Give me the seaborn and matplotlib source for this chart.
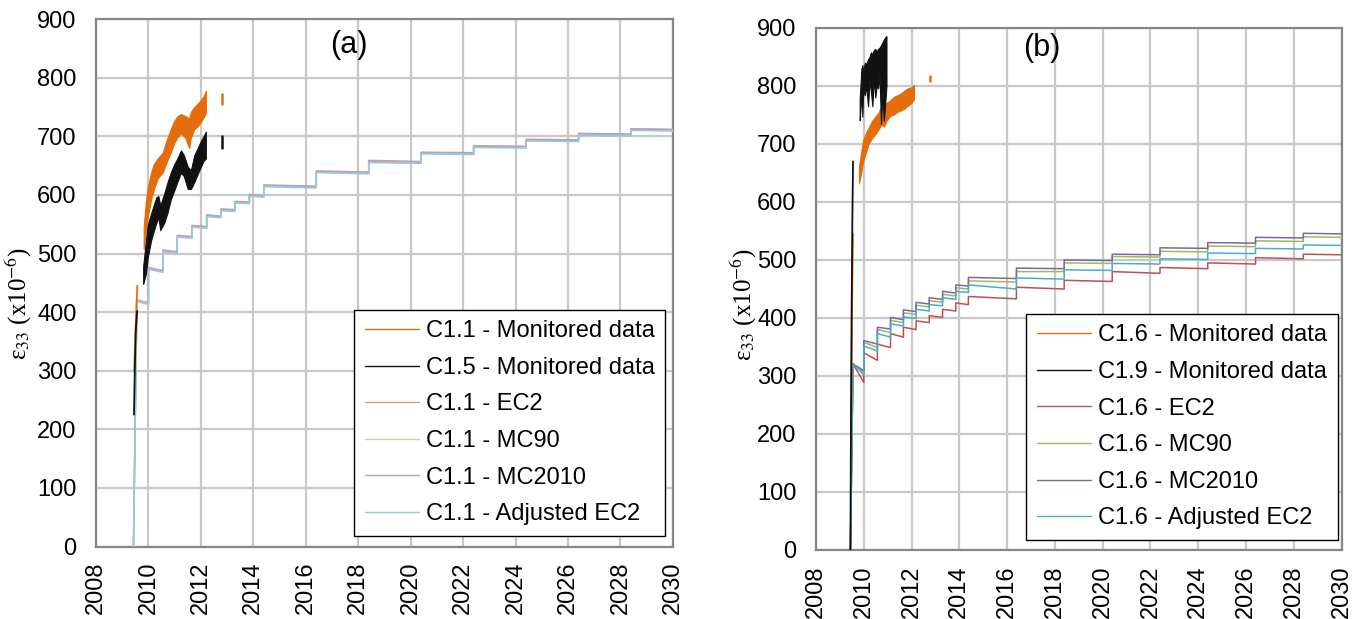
import matplotlib
matplotlib.use("Agg")
import matplotlib.pyplot as plt
import seaborn as sns

# ---------------- (a) C1.1 / C1.5 ----------------
# model step curves: ramp start, step times and level at start / end of each step
ramp_a = 2009.43
steps_a = [2009.56, 2010.0, 2010.55, 2011.1, 2011.66, 2012.22, 2012.76, 2013.3, 2013.85,
           2014.4, 2016.4, 2018.4, 2020.4, 2022.4, 2024.4, 2026.4, 2028.4, 2030.0]
ec2_a_s = [421, 476, 506, 531, 548, 566, 576, 589, 601, 617, 641, 659, 673, 684, 695, 705, 713]
ec2_a_e = [416, 471, 503, 529, 546, 564, 575, 588, 599, 615, 639, 657, 672, 683, 694, 704, 712]
mc90_a_s = [420, 474, 504, 529, 546, 564, 574, 587, 599, 615, 639, 656, 671, 682, 693, 703, 711]
mc90_a_e = [415, 469, 501, 527, 544, 562, 573, 586, 597, 613, 637, 655, 670, 681, 692, 702, 710]
mc10_a_s = [419, 474, 505, 530, 547, 565, 575, 588, 600, 616, 640, 657, 672, 683, 694, 704, 712]
mc10_a_e = [414, 470, 502, 528, 545, 563, 574, 587, 598, 614, 638, 656, 671, 682, 693, 703, 711]
adj_a_s = [418, 473, 503, 528, 545, 563, 573, 586, 598, 614, 638, 655, 670, 681, 692, 702, 710]
adj_a_e = [413, 468, 500, 526, 543, 561, 572, 585, 596, 612, 636, 654, 669, 680, 691, 701, 709]

# monitored data: initial trace + envelope of the noisy band + late reading
c11_init_t = [2009.46, 2009.50, 2009.54, 2009.58]
c11_init_v = [300, 360, 410, 445]
c11_t = [2009.82, 2009.9, 2009.97, 2010.1, 2010.2, 2010.35, 2010.54, 2010.73, 2010.85, 2010.98,
         2011.1, 2011.24, 2011.4, 2011.55, 2011.62, 2011.75, 2011.9, 2012.0, 2012.1, 2012.19]
c11_lo = [508, 540, 560, 592, 608, 628, 638, 660, 672, 688,
          698, 705, 698, 680, 698, 712, 718, 725, 732, 740]
c11_hi = [545, 588, 612, 638, 652, 662, 672, 698, 712, 726,
          734, 738, 735, 730, 742, 750, 757, 762, 768, 778]
c11_late_t = [2012.79, 2012.79]
c11_late_v = [755, 772]

c15_init_t = [2009.45, 2009.48, 2009.52, 2009.57]
c15_init_v = [225, 300, 370, 402]
c15_t = [2009.8, 2009.9, 2009.97, 2010.1, 2010.2, 2010.3, 2010.38, 2010.45, 2010.6, 2010.73,
         2010.85, 2010.98, 2011.1, 2011.24, 2011.35, 2011.5, 2011.62, 2011.75, 2011.9, 2012.0,
         2012.1, 2012.19]
c15_lo = [448, 465, 492, 522, 538, 552, 562, 540, 552, 570,
          592, 607, 622, 638, 632, 610, 610, 622, 638, 648, 658, 662]
c15_hi = [478, 520, 548, 568, 582, 596, 598, 582, 602, 622,
          638, 652, 662, 676, 668, 648, 642, 668, 682, 692, 700, 708]
c15_late_t = [2012.79, 2012.79]
c15_late_v = [680, 700]

# ---------------- (b) C1.6 / C1.9 ----------------
ramp_b = 2009.44
steps_b = [2009.55, 2010.0, 2010.57, 2011.12, 2011.66, 2012.19, 2012.74, 2013.3, 2013.85,
           2014.38, 2016.39, 2018.39, 2020.4, 2022.4, 2024.4, 2026.4, 2028.4, 2030.0]
ec2_b_s = [321, 340, 355, 373, 384, 395, 404, 415, 426, 437, 453, 465, 480, 487, 495, 504, 510]
ec2_b_e = [289, 327, 349, 367, 380, 392, 401, 412, 423, 433, 450, 463, 477, 485, 493, 502, 509]
mc90_b_s = [321, 358, 380, 396, 409, 422, 430, 441, 452, 464, 480, 495, 506, 515, 524, 533, 540]
mc90_b_e = [306, 349, 375, 392, 406, 419, 427, 438, 450, 462, 480, 494, 505, 514, 523, 532, 539]
mc10_b_s = [321, 361, 384, 401, 414, 427, 435, 446, 457, 470, 486, 500, 510, 521, 530, 539, 546]
mc10_b_e = [309, 355, 381, 397, 411, 424, 432, 443, 455, 468, 485, 499, 509, 520, 529, 538, 545]
adj_b_s = [321, 352, 373, 390, 402, 415, 423, 435, 446, 457, 469, 483, 494, 502, 512, 520, 526]
adj_b_e = [302, 343, 367, 386, 399, 412, 421, 432, 444, 450, 467, 482, 493, 501, 511, 519, 525]

c16_init_t = [2009.46, 2009.49, 2009.52, 2009.55]
c16_init_v = [180, 330, 460, 545]
c16_t = [2009.8, 2009.9, 2009.97, 2010.1, 2010.2, 2010.35, 2010.5, 2010.6, 2010.75, 2010.85,
         2010.95, 2011.1, 2011.25, 2011.4, 2011.55, 2011.7, 2011.85, 2012.0, 2012.1]
c16_lo = [632, 652, 670, 686, 700, 710, 718, 724, 734, 730,
          740, 748, 751, 755, 758, 761, 766, 771, 777]
c16_hi = [662, 688, 706, 720, 728, 740, 748, 753, 767, 763,
          771, 775, 781, 784, 787, 792, 796, 798, 802]
c16_late_t = [2012.77, 2012.77]
c16_late_v = [809, 818]

c19_init_t = [2009.44, 2009.46, 2009.49, 2009.52, 2009.55]
c19_init_v = [0, 180, 400, 560, 670]
c19_t = [2009.83, 2009.86, 2009.9, 2009.94, 2009.98, 2010.04, 2010.1, 2010.18, 2010.24, 2010.3,
         2010.36, 2010.42, 2010.48, 2010.54, 2010.6, 2010.66, 2010.72, 2010.78, 2010.84, 2010.9,
         2010.95]
c19_lo = [741, 760, 790, 747, 795, 784, 800, 765, 810, 790,
          765, 815, 780, 800, 796, 820, 735, 790, 740, 772, 800]
c19_hi = [778, 800, 830, 836, 825, 840, 838, 846, 850, 858,
          855, 862, 864, 860, 864, 866, 870, 875, 880, 884, 886]

years = list(range(2008, 2031, 2))
yvals = list(range(0, 901, 100))


def step_curve(t0, steps, start, end):
    xs, ys = [t0], [0]
    for i in range(len(start)):
        xs += [steps[i], steps[i + 1]]
        ys += [start[i], end[i]]
    return xs, ys


sns.set_theme(style="whitegrid")
plt.rcParams["font.family"] = ["Liberation Sans", "DejaVu Sans"]
plt.rcParams["mathtext.fontset"] = "stix"
plt.rcParams["text.color"] = "black"
plt.rcParams["axes.labelcolor"] = "black"

fig = plt.figure(figsize=(13.65, 6.19), dpi=100)
ax_a = fig.add_axes([0.0703, 0.1171, 0.4227, 0.852])
ax_b = fig.add_axes([0.5978, 0.1115, 0.3850, 0.8433])

panels = [
    dict(ax=ax_a, tag="(a)", tag_xy=(0.439, 0.951), ramp=ramp_a, steps=steps_a,
         models=[("C1.1 - EC2", "#d99694", ec2_a_s, ec2_a_e),
                 ("C1.1 - MC90", "#c3d69b", mc90_a_s, mc90_a_e),
                 ("C1.1 - MC2010", "#b3a2c7", mc10_a_s, mc10_a_e),
                 ("C1.1 - Adjusted EC2", "#93cddd", adj_a_s, adj_a_e)],
         mon=[("C1.1 - Monitored data", "#e46c0a", c11_init_t, c11_init_v, c11_t, c11_lo, c11_hi,
               c11_late_t, c11_late_v),
              ("C1.5 - Monitored data", "#111111", c15_init_t, c15_init_v, c15_t, c15_lo, c15_hi,
               c15_late_t, c15_late_v)],
         ylab_xy=(-0.108, 0.46), leg_anchor=(0.987, 0.02)),
    dict(ax=ax_b, tag="(b)", tag_xy=(0.430, 0.962), ramp=ramp_b, steps=steps_b,
         models=[("C1.6 - EC2", "#c0504d", ec2_b_s, ec2_b_e),
                 ("C1.6 - MC90", "#9bbb59", mc90_b_s, mc90_b_e),
                 ("C1.6 - MC2010", "#8064a2", mc10_b_s, mc10_b_e),
                 ("C1.6 - Adjusted EC2", "#4bacc6", adj_b_s, adj_b_e)],
         mon=[("C1.6 - Monitored data", "#e46c0a", c16_init_t, c16_init_v, c16_t, c16_lo, c16_hi,
               c16_late_t, c16_late_v),
              ("C1.9 - Monitored data", "#111111", c19_init_t, c19_init_v, c19_t, c19_lo, c19_hi,
               None, None)],
         ylab_xy=(-0.108, 0.471), leg_anchor=(0.993, 0.019)),
]

for p in panels:
    ax = p["ax"]
    handles = []
    for label, col, t0, v0, t, lo, hi, lt, lv in p["mon"]:
        sns.lineplot(x=t0, y=v0, ax=ax, color=col, lw=1.3, estimator=None, sort=False, zorder=4)
        ax.fill_between(t, lo, hi, color=col, lw=0.8, zorder=4)
        if lt is not None:
            sns.lineplot(x=lt, y=lv, ax=ax, color=col, lw=1.8, estimator=None, sort=False, zorder=4)
        handles.append((plt.Line2D([], [], color=col, lw=1.0), label))
    for label, col, s, e in p["models"]:
        xs, ys = step_curve(p["ramp"], p["steps"], s, e)
        sns.lineplot(x=xs, y=ys, ax=ax, color=col, lw=1.1, estimator=None, sort=False, zorder=3)
        handles.append((plt.Line2D([], [], color=col, lw=1.0), label))

    ax.set_xlim(2008, 2030)
    ax.set_ylim(0, 900)
    ax.set_xticks(years)
    ax.set_xticklabels([str(y) for y in years], rotation=90)
    ax.set_yticks(yvals)
    ax.tick_params(axis="both", labelsize=17, length=0, colors="black", labelcolor="black")
    ax.tick_params(axis="y", pad=14)
    ax.tick_params(axis="x", pad=11)
    ax.grid(True, color="#c8c8c8", lw=1.6)
    ax.set_axisbelow(True)
    for sp in ax.spines.values():
        sp.set_color("#868686")
        sp.set_linewidth(1.6)
    ax.set_xlabel("")
    ax.set_ylabel("ε$_{33}$ (x10$^{−6}$)", fontsize=18, family="Liberation Serif",
                  color="black")
    ax.yaxis.set_label_coords(*p["ylab_xy"])
    ax.text(p["tag_xy"][0], p["tag_xy"][1], p["tag"], transform=ax.transAxes,
            fontsize=22, ha="center", va="center", color="black")
    leg = ax.legend([h for h, _ in handles], [l for _, l in handles], loc="lower right",
                    bbox_to_anchor=p["leg_anchor"], fontsize=17, frameon=True, fancybox=False,
                    framealpha=1, edgecolor="black", handlelength=2.3, handletextpad=0.3,
                    labelspacing=0.62, borderpad=0.45, borderaxespad=0)
    leg.get_frame().set_linewidth(1.0)
    for txt in leg.get_texts():
        txt.set_color("black")
    leg.set_zorder(5)

fig.savefig("out.png", dpi=100)
